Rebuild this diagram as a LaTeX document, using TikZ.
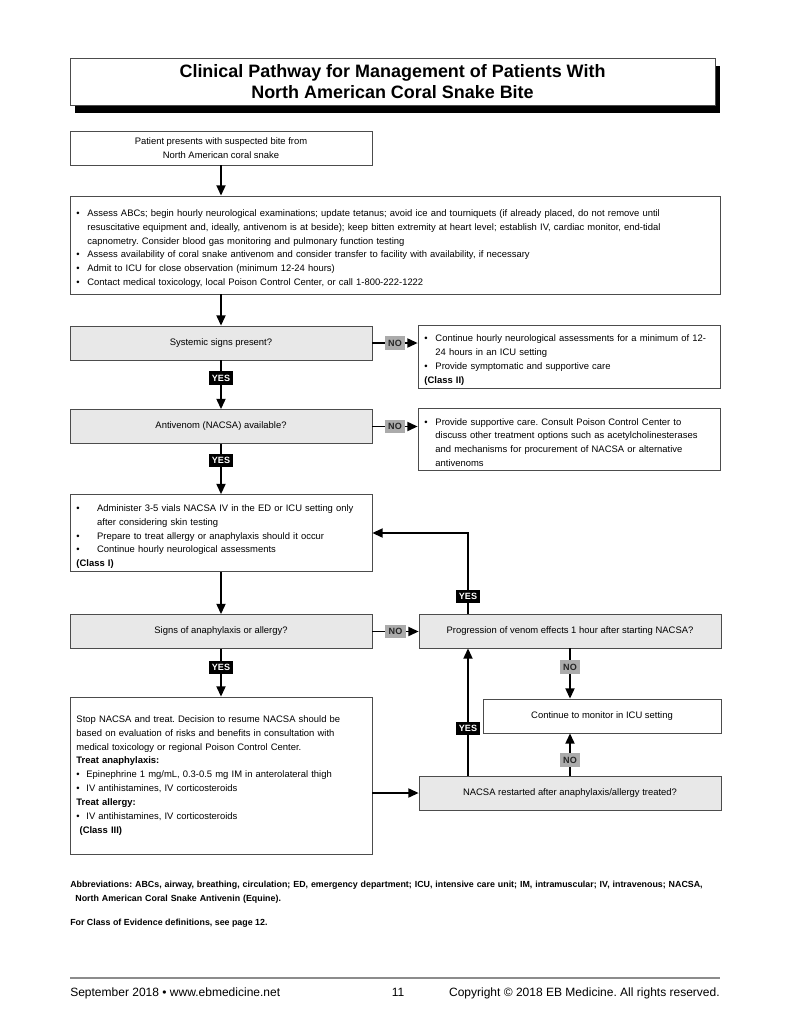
\documentclass[tikz,border=0pt]{standalone}
\usepackage{fontspec}
\setmainfont{Liberation Sans}
\usepackage{tikz}
\usepackage{xcolor}
\usetikzlibrary{arrows.meta}
\usetikzlibrary{shadows}

\newcommand{\bul}[2][8.5pt]{\par\hangindent=#1\hangafter=1\noindent\makebox[#1][l]{\textbullet}#2\par}
\newcommand{\cls}[1]{\par\noindent\textbf{#1}}

\begin{document}
\frenchspacing
\begin{tikzpicture}[x=0.774pt,y=-0.774pt]
	\tikzstyle{box}=[draw=black!70,line width=0.6pt,fill=white,inner xsep=5pt,inner ysep=2pt,font=\fontsize{7.3}{10.8}\selectfont]
	\tikzstyle{lbox}=[box,text width=223.7pt,align=left]
	\tikzstyle{wbox}=[box,text width=493.1pt,align=left]
	\tikzstyle{ask}=[box,fill=black!9,minimum width=233.7pt,minimum height=26.3pt,align=center]
	\tikzstyle{titlebox}=[draw=black!70,line width=0.6pt,fill=white,minimum width=499.2pt,minimum height=36.4pt,align=center,font=\bfseries\fontsize{13.9}{16.3}\selectfont,drop shadow={shadow xshift=3.9pt,shadow yshift=-6.2pt,fill=black,opacity=1}]
	\tikzstyle{edge}=[draw=black,line width=1.4pt,-{Triangle[length=8pt,width=7pt]}]
	\tikzstyle{yestag}=[fill=black,text=white,font=\bfseries\fontsize{7}{8}\selectfont,inner xsep=2.5pt,inner ysep=1.5pt,minimum height=10.5pt]
	\tikzstyle{notag}=[yestag,fill=black!33,text=black!85]
	\tikzstyle{note}=[font=\bfseries\fontsize{6.85}{11}\selectfont,inner sep=0pt,align=left]
	\tikzstyle{foot}=[font=\fontsize{9.3}{10}\selectfont,inner sep=0pt]

	\useasboundingbox (0,0) rectangle (791,1024);

	\node [titlebox] (title) at (392.5,81.5) {Clinical Pathway for Management of Patients With\\North American Coral Snake Bite};

	\node [box,minimum width=233.7pt,minimum height=26.3pt,align=center] (patient) at (221,148)
		{Patient presents with suspected bite from\\North American coral snake};

	\node [wbox,minimum height=75.9pt] (assess) at (395,245) {%
		\bul{Assess ABCs; begin hourly neurological examinations; update tetanus; avoid ice and tourniquets (if already placed, do not remove until\newline resuscitative equipment and, ideally, antivenom is at beside); keep bitten extremity at heart level; establish IV, cardiac monitor, end-tidal\newline capnometry. Consider blood gas monitoring and pulmonary function testing}
		\bul{Assess availability of coral snake antivenom and consider transfer to facility with availability, if necessary}
		\bul{Admit to ICU for close observation (minimum 12-24 hours)}
		\bul{Contact medical toxicology, local Poison Control Center, or call 1-800-222-1222}};

	\node [ask] (systemic) at (221,343) {Systemic signs present?};
	\node [lbox,minimum height=47.2pt] (hourly) at (569,356.5) {%
		\bul{Continue hourly neurological assessments for a minimum of 12-\newline 24 hours in an ICU setting}
		\bul{Provide symptomatic and supportive care}
		\cls{(Class II)}};

	\node [ask] (antivenom) at (221,426.5) {Antivenom (NACSA) available?};
	\node [lbox,minimum height=48pt] (supportive) at (569,439) {%
		\bul{Provide supportive care. Consult Poison Control Center to\newline discuss other treatment options such as acetylcholinesterases\newline and mechanisms for procurement of NACSA or alternative\newline antivenoms}};

	\node [lbox,minimum height=58.8pt] (administer) at (221,533) {%
		\bul[16pt]{Administer 3-5 vials NACSA IV in the ED or ICU setting only\newline after considering skin testing}
		\bul[16pt]{Prepare to treat allergy or anaphylaxis should it occur}
		\bul[16pt]{Continue hourly neurological assessments}
		\cls{(Class I)}};

	\node [ask] (signs) at (221,631.5) {Signs of anaphylaxis or allergy?};
	\node [ask] (progression) at (570,631) {Progression of venom effects 1 hour after starting NACSA?};

	\node [lbox,minimum height=121.5pt] (stop) at (221,775.5) {%
		\noindent Stop NACSA and treat. Decision to resume NACSA should be\newline based on evaluation of risks and benefits in consultation with\newline medical toxicology or regional Poison Control Center.
		\cls{Treat anaphylaxis:}
		\bul[7.7pt]{Epinephrine 1 mg/mL, 0.3-0.5 mg IM in anterolateral thigh}
		\bul[7.7pt]{IV antihistamines, IV corticosteroids}
		\cls{Treat allergy:}
		\bul[7.7pt]{IV antihistamines, IV corticosteroids}
		\cls{\ (Class III)}};

	\node [box,minimum width=184.2pt,minimum height=26.3pt] (monitor) at (602,716) {Continue to monitor in ICU setting};
	\node [ask] (restart) at (570,793) {NACSA restarted after anaphylaxis/allergy treated?};

	\coordinate (bend) at (468,533);

	\path[edge] (patient.south) -- (patient.south |- assess.north);
	\path[edge] (assess.south -| systemic) -- (systemic.north);
	\path[edge] (systemic) -- node[yestag,pos=0.36] {YES} (antivenom);
	\path[edge] (systemic.east) -- node[notag] {NO} (systemic.east -| hourly.west);
	\path[edge] (antivenom) -- node[yestag,pos=0.33] {YES} (administer);
	\path[edge] (antivenom.east) -- node[notag] {NO} (antivenom.east -| supportive.west);
	\path[edge] (administer) -- (signs);
	\path[edge] (signs.east) -- node[notag] {NO} (signs.east -| progression.west);
	\path[edge] (signs) -- node[yestag,pos=0.39] {YES} (stop);
	\path[edge] (progression.north -| bend) -- node[yestag,pos=0.21] {YES} (bend) -- (bend -| administer.east);
	\path[edge] (progression.south) -- node[notag,pos=0.37] {NO} (progression.south |- monitor.north);
	\path[edge] (restart.north) -- node[notag,pos=0.37] {NO} (restart.north |- monitor.south);
	\path[edge] (restart.north -| bend) -- node[yestag,pos=0.37] {YES} (progression.south -| bend);
	\path[edge] (stop.east |- restart) -- (restart.west);

	\node [note,anchor=north west,text width=503pt] (abbr) at (70,881)
		{Abbreviations: ABCs, airway, breathing, circulation; ED, emergency department; ICU, intensive care unit; IM, intramuscular; IV, intravenous; NACSA,\newline\hspace*{4pt}North American Coral Snake Antivenin (Equine).};
	\node [note,anchor=north west] (evidence) at (70,919) {For Class of Evidence definitions, see page 12.};

	\coordinate (ruleL) at (70,978);
	\coordinate (ruleR) at (720,978);
	\draw[black!45,line width=0.8pt] (ruleL) -- (ruleR);
	\node [foot,anchor=base west] (date) at (70,996) {September 2018 \textbullet{} www.ebmedicine.net};
	\node [foot,anchor=base] (page) at (398,996) {11};
	\node [foot,anchor=base east] (copy) at (720,996) {Copyright © 2018 EB Medicine. All rights reserved.};
\end{tikzpicture}
\end{document}
